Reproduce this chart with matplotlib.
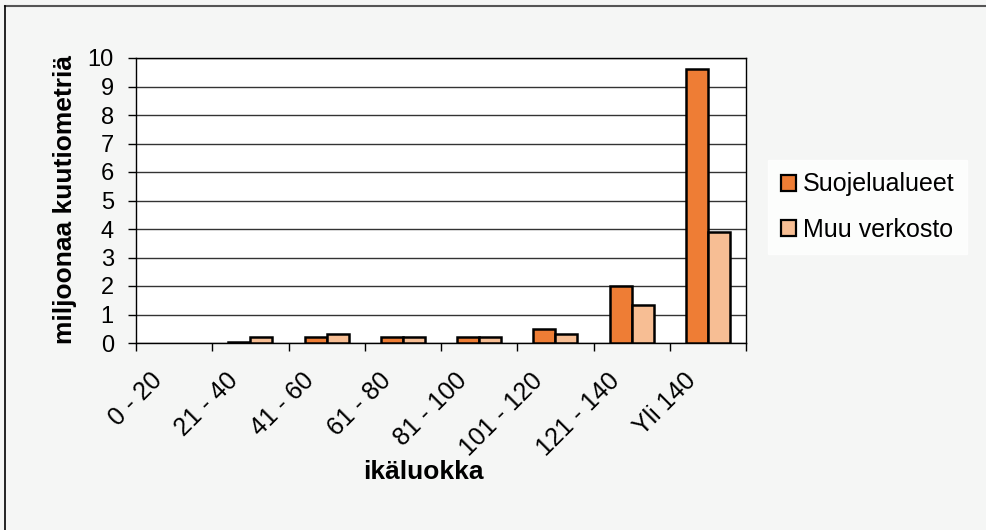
import matplotlib
matplotlib.use("Agg")
import matplotlib.pyplot as plt
import numpy as np
from matplotlib.lines import Line2D
from matplotlib.transforms import ScaledTranslation

plt.rcParams['font.family'] = ['Liberation Sans', 'DejaVu Sans']

categories = ["0 - 20", "21 - 40", "41 - 60", "61 - 80", "81 - 100", "101 - 120", "121 - 140", "Yli 140"]
suojelualueet = [0.0, 0.05, 0.22, 0.2, 0.2, 0.5, 2.0, 9.6]
muu_verkosto = [0.0, 0.22, 0.3, 0.2, 0.2, 0.3, 1.35, 3.9]
series_names = ["Suojelualueet", "Muu verkosto"]
colors = ["#EE7D35", "#F7BE94"]

W, H = 986, 530
fig = plt.figure(figsize=(W / 100, H / 100), dpi=100)
fig.patch.set_facecolor("#F5F6F5")

ax = fig.add_axes([136 / W, (H - 343) / H, (746 - 136) / W, (343 - 58) / H])
ax.set_facecolor("white")

x = np.arange(len(categories))
bw = 0.29
lw1 = [0 if v == 0 else 1.8 for v in suojelualueet]
lw2 = [0 if v == 0 else 1.8 for v in muu_verkosto]
ax.bar(x - bw / 2, suojelualueet, width=bw, color=colors[0], edgecolor="black", linewidth=lw1, label=series_names[0], zorder=3)
ax.bar(x + bw / 2, muu_verkosto, width=bw, color=colors[1], edgecolor="black", linewidth=lw2, label=series_names[1], zorder=3)

ax.set_xlim(-0.5, len(categories) - 0.5)
ax.set_ylim(0, 10)
ax.set_yticks(range(0, 11))
ax.tick_params(axis='y', labelsize=17, length=6, width=1, direction='out', pad=10)
ax.yaxis.grid(True, color="#333333", linewidth=1.0, zorder=0)
ax.set_axisbelow(True)

ax.set_xticks(np.arange(len(categories) + 1) - 0.5)
ax.set_xticklabels([])
ax.tick_params(axis='x', length=6, width=1, direction='out')

off = ScaledTranslation(-16 / 100, -34 / 100, fig.dpi_scale_trans)
for xi, lab in zip(x, categories):
    ax.text(xi, 0, lab, transform=ax.get_xaxis_transform() + off, rotation=45,
            rotation_mode='anchor', ha='right', va='center', fontsize=18, clip_on=False)

for s in ['left', 'bottom', 'right', 'top']:
    ax.spines[s].set_color('black')
    ax.spines[s].set_linewidth(1.0)

fig.text(65 / W, (H - 200) / H, "miljoonaa kuutiometriä", fontsize=19, fontweight='bold',
         rotation=90, ha='center', va='center')
fig.text(423 / W, (H - 472) / H, "ikäluokka", fontsize=19, fontweight='bold', ha='center', va='center')

leg = fig.legend(loc='upper left', bbox_to_anchor=(768 / W, (H - 160) / H), frameon=True, fontsize=18,
                 handlelength=0.6, handleheight=0.6, handletextpad=0.3, labelspacing=0.85,
                 borderpad=0.5, borderaxespad=0, fancybox=False)
leg.get_frame().set_facecolor('white')
leg.get_frame().set_edgecolor('white')
for h in leg.legend_handles:
    h.set_linewidth(1.6)

fig.add_artist(Line2D([5 / W, 1.0], [1 - 6 / H, 1 - 6 / H], color="#555555", linewidth=1.5, transform=fig.transFigure))
fig.add_artist(Line2D([5 / W, 5 / W], [0, 1 - 6 / H], color="black", linewidth=1.2, transform=fig.transFigure))

fig.savefig("out.png", dpi=100, facecolor=fig.get_facecolor())
